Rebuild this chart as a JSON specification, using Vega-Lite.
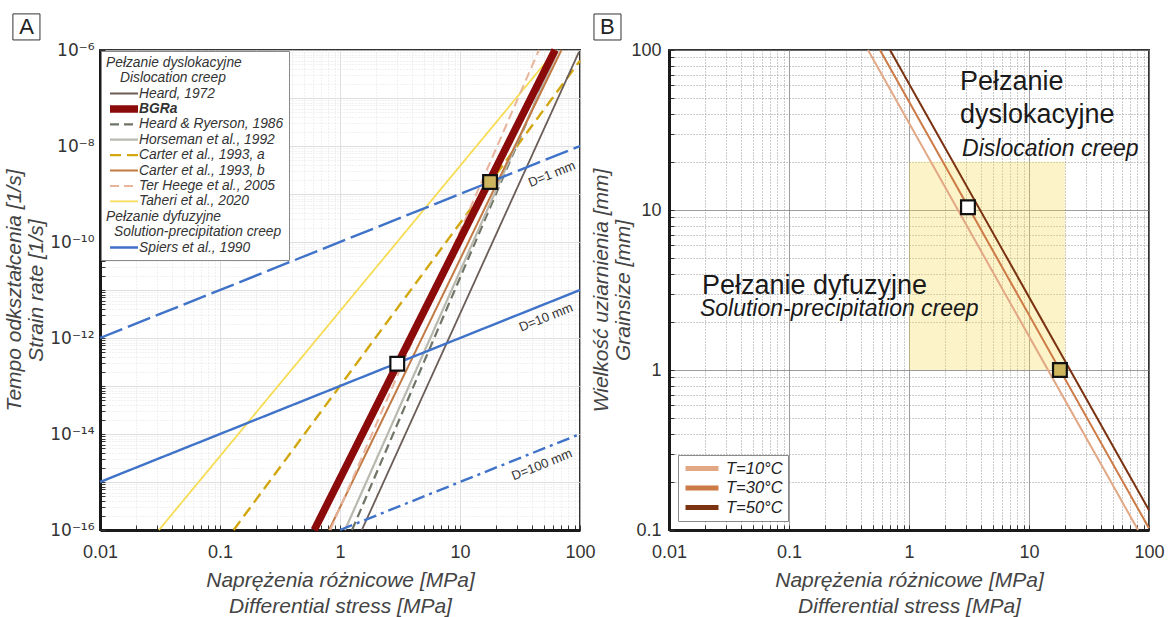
{
  "$schema": "https://vega.github.io/schema/vega-lite/v6.json",
  "padding": {"left": 2, "top": 12, "right": 0, "bottom": 0},
  "bounds": "flush",
  "spacing": 89,
  "resolve": {
    "scale": {"color": "independent", "fill": "independent", "strokeDash": "independent", "strokeWidth": "independent", "x": "independent", "y": "independent"},
    "legend": {"color": "independent", "fill": "independent", "strokeDash": "independent", "strokeWidth": "independent"}
  },
  "config": {
    "font": "Liberation Sans",
    "view": {"stroke": "#333333", "strokeWidth": 2},
    "axis": {
      "labelFont": "Liberation Sans",
      "labelFontSize": 18,
      "labelColor": "#333333",
      "titleFont": "Liberation Sans",
      "titleFontSize": 21,
      "titleFontStyle": "italic",
      "titleFontWeight": "normal",
      "titleColor": "#444444",
      "domainColor": "#1a1a1a",
      "domainWidth": 3,
      "tickColor": "#333333",
      "tickSize": -5,
      "tickWidth": 1,
      "labelOverlap": false,
      "labelFlush": false,
      "labelBound": false
    }
  },
  "datasets": {
    "creep": [
      {"series": "Taheri et al., 2020", "stress": 0.031, "rate": 1e-16},
      {"series": "Taheri et al., 2020", "stress": 63, "rate": 1e-6},
      {"series": "Carter et al., 1993, a", "stress": 0.13, "rate": 1e-16},
      {"series": "Carter et al., 1993, a", "stress": 100, "rate": 6e-7},
      {"series": "Heard, 1972", "stress": 1.52, "rate": 1e-16},
      {"series": "Heard, 1972", "stress": 98, "rate": 9.1e-7},
      {"series": "Heard & Ryerson, 1986", "stress": 1.26, "rate": 1e-16},
      {"series": "Heard & Ryerson, 1986", "stress": 65, "rate": 1e-6},
      {"series": "Horseman et al., 1992", "stress": 1.1, "rate": 1e-16},
      {"series": "Horseman et al., 1992", "stress": 66, "rate": 1e-6},
      {"series": "Carter et al., 1993, b", "stress": 0.81, "rate": 1e-16},
      {"series": "Carter et al., 1993, b", "stress": 70, "rate": 1e-6},
      {"series": "Ter Heege et al., 2005", "stress": 0.83, "rate": 1e-16},
      {"series": "Ter Heege et al., 2005", "stress": 45.5, "rate": 1e-6},
      {"series": "BGRa", "stress": 0.61, "rate": 1e-16},
      {"series": "BGRa", "stress": 62, "rate": 1e-6},
      {"series": "Spiers et al., 1990 (D=1 mm)", "stress": 0.01, "rate": 1e-12},
      {"series": "Spiers et al., 1990 (D=1 mm)", "stress": 100, "rate": 1e-8},
      {"series": "Spiers et al., 1990", "stress": 0.01, "rate": 1e-15},
      {"series": "Spiers et al., 1990", "stress": 100, "rate": 1e-11},
      {"series": "Spiers et al., 1990 (D=100 mm)", "stress": 1, "rate": 1e-16},
      {"series": "Spiers et al., 1990 (D=100 mm)", "stress": 100, "rate": 1e-14}
    ],
    "dlabels": [
      {"label": "D=1 mm", "stress": 58.4, "rate": 2.58e-9},
      {"label": "D=10 mm", "stress": 52.1, "rate": 2.67e-12},
      {"label": "D=100 mm", "stress": 48.2, "rate": 2.28e-15}
    ],
    "pointsA": [
      {"D": "1 mm", "stress": 17.8, "rate": 1.78e-9},
      {"D": "10 mm", "stress": 3.0, "rate": 2.9e-13}
    ],
    "panelA": [
      {"label": "A", "stress": 0.00244, "rate": 3.02e-6, "stress_lo": 0.00188, "stress_hi": 0.00316, "rate_hi": 5.65e-6, "rate_lo": 1.62e-6}
    ],
    "mapB": [
      {"T": "T=10°C", "stress": 0.455, "grain": 100},
      {"T": "T=10°C", "stress": 81, "grain": 0.1},
      {"T": "T=30°C", "stress": 0.573, "grain": 100},
      {"T": "T=30°C", "stress": 100, "grain": 0.1026},
      {"T": "T=50°C", "stress": 0.695, "grain": 100},
      {"T": "T=50°C", "stress": 100, "grain": 0.133}
    ],
    "pointsB": [
      {"D": "10 mm", "stress": 3.1, "grain": 10.4},
      {"D": "1 mm", "stress": 18.1, "grain": 1.0}
    ],
    "regionB": [
      {"stress": 1, "stress_hi": 20, "grain": 1, "grain_hi": 20}
    ],
    "textB": [
      {"label": "Pełzanie", "stress": 2.66, "grain": 56.2},
      {"label": "dyslokacyjne", "stress": 2.66, "grain": 35.0},
      {"label": "Pełzanie dyfuzyjne", "stress": 0.0188, "grain": 2.99}
    ],
    "textBi": [
      {"label": "Dislocation creep", "stress": 2.77, "grain": 21.8},
      {"label": "Solution-precipitation creep", "stress": 0.0181, "grain": 2.18}
    ],
    "panelB": [
      {"label": "B", "stress": 0.00307, "grain": 139.2, "stress_lo": 0.00237, "stress_hi": 0.00398, "grain_hi": 167.9, "grain_lo": 115.5}
    ]
  },
  "hconcat": [
    {
      "width": 480,
      "height": 480,
      "encoding": {
        "x": {
          "field": "stress", "type": "quantitative",
          "scale": {"type": "log", "domain": [0.01, 100], "nice": false},
          "axis": {
            "title": ["Naprężenia różnicowe [MPa]", "Differential stress [MPa]"],
            "titleLineHeight": 26,
            "titlePadding": 8,
            "labelPadding": 18,
            "values": [0.01,0.02,0.03,0.04,0.05,0.06,0.07,0.08,0.09,0.1,0.2,0.3,0.4,0.5,0.6,0.7,0.8,0.9,1,2,3,4,5,6,7,8,9,10,20,30,40,50,60,70,80,90,100],
            "labelExpr": "abs(log(datum.value)/LN10-round(log(datum.value)/LN10))<0.001 ? format(datum.value,'~g') : ''",
            "gridColor": {"condition": {"test": "abs(log(datum.value)/LN10-round(log(datum.value)/LN10))<0.001", "value": "#d4d4d4"}, "value": "#e3e3e3"},
            "gridDash": {"condition": {"test": "abs(log(datum.value)/LN10-round(log(datum.value)/LN10))<0.001", "value": [1, 0]}, "value": [1, 2]}
          }
        },
        "y": {
          "field": "rate", "type": "quantitative",
          "scale": {"type": "log", "domain": [1e-16, 1e-6], "nice": false},
          "axis": {
            "title": ["Tempo odkształcenia [1/s]", "Strain rate [1/s]"],
            "titleLineHeight": 22,
            "titlePadding": 3,
            "labelPadding": 11,
            "labelFont": "DejaVu Sans",
            "labelFontSize": 17,
            "values": [1e-16,2e-16,3e-16,4e-16,5e-16,6e-16,7e-16,8e-16,9e-16,1e-15,2e-15,3e-15,4e-15,5e-15,6e-15,7e-15,8e-15,9e-15,1e-14,2e-14,3e-14,4e-14,5e-14,6e-14,7e-14,8e-14,9e-14,1e-13,2e-13,3e-13,4e-13,5e-13,6e-13,7e-13,8e-13,9e-13,1e-12,2e-12,3e-12,4e-12,5e-12,6e-12,7e-12,8e-12,9e-12,1e-11,2e-11,3e-11,4e-11,5e-11,6e-11,7e-11,8e-11,9e-11,1e-10,2e-10,3e-10,4e-10,5e-10,6e-10,7e-10,8e-10,9e-10,1e-9,2e-9,3e-9,4e-9,5e-9,6e-9,7e-9,8e-9,9e-9,1e-8,2e-8,3e-8,4e-8,5e-8,6e-8,7e-8,8e-8,9e-8,1e-7,2e-7,3e-7,4e-7,5e-7,6e-7,7e-7,8e-7,9e-7,1e-6],
            "labelExpr": "abs(log(datum.value)/LN10-round(log(datum.value)/LN10))>0.001 ? '' : round(log(datum.value)/LN10)==-6 ? '10⁻⁶' : round(log(datum.value)/LN10)==-8 ? '10⁻⁸' : round(log(datum.value)/LN10)==-10 ? '10⁻¹⁰' : round(log(datum.value)/LN10)==-12 ? '10⁻¹²' : round(log(datum.value)/LN10)==-14 ? '10⁻¹⁴' : round(log(datum.value)/LN10)==-16 ? '10⁻¹⁶' : ''",
            "gridColor": {"condition": {"test": "abs(log(datum.value)/LN10-round(log(datum.value)/LN10))<0.001", "value": "#d4d4d4"}, "value": "#e3e3e3"},
            "gridDash": {"condition": {"test": "abs(log(datum.value)/LN10-round(log(datum.value)/LN10))<0.001", "value": [1, 0]}, "value": [1, 2]}
          }
        }
      },
      "layer": [
        {
          "data": {"name": "creep"},
          "mark": {"type": "line", "strokeCap": "butt"},
          "encoding": {
            "color": {
              "field": "series", "type": "nominal",
              "scale": {
                "domain": ["Pełzanie dyslokacyjne", "Dislocation creep", "Heard, 1972", "BGRa", "Heard & Ryerson, 1986", "Horseman et al., 1992", "Carter et al., 1993, a", "Carter et al., 1993, b", "Ter Heege et al., 2005", "Taheri et al., 2020", "Pełzanie dyfuzyjne", "Solution-precipitation creep", "Spiers et al., 1990", "Spiers et al., 1990 (D=1 mm)", "Spiers et al., 1990 (D=100 mm)"],
                "range": ["rgba(0,0,0,0)", "rgba(0,0,0,0)", "#6b5d57", "#8b0a0a", "#6e7566", "#b9b9b0", "#d2a70f", "#c27a45", "#e8b49c", "#f7dc55", "rgba(0,0,0,0)", "rgba(0,0,0,0)", "#3f72c8", "#3f72c8", "#3f72c8"]
              },
              "legend": {
                "title": null,
                "orient": "top-left",
                "offset": 1,
                "padding": 5,
                "fillColor": "white",
                "strokeColor": "#8a8a8a",
                "symbolType": "stroke",
                "symbolSize": 784,
                "clipHeight": 13.4,
                "rowPadding": 0.4,
                "labelOffset": 5,
                "labelFont": "Liberation Sans",
                "labelFontSize": 13.8,
                "labelFontStyle": "italic",
                "labelColor": "#333333",
                "labelLimit": 300,
                "values": ["Pełzanie dyslokacyjne", "Dislocation creep", "Heard, 1972", "BGRa", "Heard & Ryerson, 1986", "Horseman et al., 1992", "Carter et al., 1993, a", "Carter et al., 1993, b", "Ter Heege et al., 2005", "Taheri et al., 2020", "Pełzanie dyfuzyjne", "Solution-precipitation creep", "Spiers et al., 1990"],
                "encode": {
                  "labels": {"update": {
                    "x": {"signal": "datum.label == 'Pełzanie dyslokacyjne' || datum.label == 'Pełzanie dyfuzyjne' ? 0 : datum.label == 'Dislocation creep' ? 14 : datum.label == 'Solution-precipitation creep' ? 8 : 33"},
                    "fontWeight": {"signal": "datum.label == 'BGRa' ? 'bold' : 'normal'"}
                  }},
                  "symbols": {"update": {
                    "strokeWidth": {"signal": "datum.label == 'BGRa' ? 6 : 2.6"},
                    "strokeDash": {"signal": "datum.label == 'Heard & Ryerson, 1986' || datum.label == 'Ter Heege et al., 2005' ? [7, 4] : datum.label == 'Carter et al., 1993, a' ? [8, 4] : [1, 0]"}
                  }}
                }
              }
            },
            "strokeDash": {
              "field": "series", "type": "nominal", "legend": null,
              "scale": {
                "domain": ["Pełzanie dyslokacyjne", "Dislocation creep", "Heard, 1972", "BGRa", "Heard & Ryerson, 1986", "Horseman et al., 1992", "Carter et al., 1993, a", "Carter et al., 1993, b", "Ter Heege et al., 2005", "Taheri et al., 2020", "Pełzanie dyfuzyjne", "Solution-precipitation creep", "Spiers et al., 1990", "Spiers et al., 1990 (D=1 mm)", "Spiers et al., 1990 (D=100 mm)"],
                "range": [[1,0],[1,0],[1,0],[1,0],[9,5],[1,0],[11,6],[1,0],[9,5],[1,0],[1,0],[1,0],[1,0],[24,6],[13,5,3,5]]
              }
            },
            "strokeWidth": {
              "field": "series", "type": "nominal", "legend": null,
              "scale": {
                "type": "ordinal",
                "domain": ["Pełzanie dyslokacyjne", "Dislocation creep", "Heard, 1972", "BGRa", "Heard & Ryerson, 1986", "Horseman et al., 1992", "Carter et al., 1993, a", "Carter et al., 1993, b", "Ter Heege et al., 2005", "Taheri et al., 2020", "Pełzanie dyfuzyjne", "Solution-precipitation creep", "Spiers et al., 1990", "Spiers et al., 1990 (D=1 mm)", "Spiers et al., 1990 (D=100 mm)"],
                "range": [0, 0, 1.8, 7.5, 2.2, 2.2, 2.4, 2, 2, 1.8, 0, 0, 2.4, 2.4, 2.4]
              }
            }
          }
        },
        {
          "data": {"name": "dlabels"},
          "mark": {"type": "text", "angle": -22, "fontSize": 13, "color": "#333333", "align": "center", "baseline": "middle"},
          "encoding": {
            "text": {"field": "label"}
          }
        },
        {
          "data": {"name": "pointsA"},
          "mark": {"type": "point", "shape": "square", "filled": true, "size": 190, "stroke": "#111111", "strokeWidth": 2.2, "opacity": 1},
          "encoding": {
            "fill": {"field": "D", "type": "nominal", "scale": {"domain": ["1 mm", "10 mm"], "range": ["#cdb65d", "#ffffff"]}, "legend": null}
          }
        },
        {
          "data": {"name": "panelA"},
          "mark": {"type": "rect", "fill": "white", "stroke": "#333333", "strokeWidth": 1},
          "encoding": {
            "x": {"field": "stress_lo", "type": "quantitative"},
            "x2": {"field": "stress_hi"},
            "y": {"field": "rate_hi", "type": "quantitative"},
            "y2": {"field": "rate_lo"}
          }
        },
        {
          "data": {"name": "panelA"},
          "mark": {"type": "text", "fontSize": 22, "color": "#222222", "align": "center", "baseline": "middle"},
          "encoding": {
            "text": {"field": "label"}
          }
        }
      ]
    },
    {
      "width": 480,
      "height": 480,
      "encoding": {
        "x": {
          "field": "stress", "type": "quantitative",
          "scale": {"type": "log", "domain": [0.01, 100], "nice": false},
          "axis": {
            "title": ["Naprężenia różnicowe [MPa]", "Differential stress [MPa]"],
            "titleLineHeight": 26,
            "titlePadding": 8,
            "labelPadding": 18,
            "values": [0.01,0.02,0.03,0.04,0.05,0.06,0.07,0.08,0.09,0.1,0.2,0.3,0.4,0.5,0.6,0.7,0.8,0.9,1,2,3,4,5,6,7,8,9,10,20,30,40,50,60,70,80,90,100],
            "labelExpr": "abs(log(datum.value)/LN10-round(log(datum.value)/LN10))<0.001 ? format(datum.value,'~g') : ''",
            "gridColor": {"condition": {"test": "abs(log(datum.value)/LN10-round(log(datum.value)/LN10))<0.001", "value": "#7d7d7d"}, "value": "#999999"},
            "gridDash": {"condition": {"test": "abs(log(datum.value)/LN10-round(log(datum.value)/LN10))<0.001", "value": [1, 0]}, "value": [1, 2]}
          }
        },
        "y": {
          "field": "grain", "type": "quantitative",
          "scale": {"type": "log", "domain": [0.1, 100], "nice": false},
          "axis": {
            "title": ["Wielkość uziarnienia [mm]", "Grainsize [mm]"],
            "titleLineHeight": 22,
            "titlePadding": -3,
            "labelPadding": 13,
            "values": [0.1,0.2,0.3,0.4,0.5,0.6,0.7,0.8,0.9,1,2,3,4,5,6,7,8,9,10,20,30,40,50,60,70,80,90,100],
            "labelExpr": "abs(log(datum.value)/LN10-round(log(datum.value)/LN10))<0.001 ? format(datum.value,'~g') : ''",
            "gridColor": {"condition": {"test": "abs(log(datum.value)/LN10-round(log(datum.value)/LN10))<0.001", "value": "#7d7d7d"}, "value": "#999999"},
            "gridDash": {"condition": {"test": "abs(log(datum.value)/LN10-round(log(datum.value)/LN10))<0.001", "value": [1, 0]}, "value": [1, 2]}
          }
        }
      },
      "layer": [
        {
          "data": {"name": "regionB"},
          "mark": {"type": "rect", "fill": "#f9d649", "opacity": 0.3},
          "encoding": {
            "x2": {"field": "stress_hi"},
            "y2": {"field": "grain_hi"}
          }
        },
        {
          "data": {"name": "mapB"},
          "mark": {"type": "line", "strokeWidth": 2},
          "encoding": {
            "color": {
              "field": "T", "type": "nominal",
              "scale": {"domain": ["T=10°C", "T=30°C", "T=50°C"], "range": ["#e2a886", "#cc7a46", "#7a3210"]},
              "legend": {
                "title": null,
                "orient": "bottom-left",
                "offset": 9,
                "padding": 5,
                "fillColor": "white",
                "strokeColor": "#8a8a8a",
                "symbolType": "stroke",
                "symbolSize": 1089,
                "symbolStrokeWidth": 5,
                "clipHeight": 17,
                "rowPadding": 2.5,
                "labelOffset": 5,
                "labelFont": "Liberation Sans",
                "labelFontSize": 16.5,
                "labelFontStyle": "italic",
                "labelColor": "#222222"
              }
            }
          }
        },
        {
          "data": {"name": "pointsB"},
          "mark": {"type": "point", "shape": "square", "filled": true, "size": 190, "stroke": "#111111", "strokeWidth": 2.2, "opacity": 1},
          "encoding": {
            "fill": {"field": "D", "type": "nominal", "scale": {"domain": ["1 mm", "10 mm"], "range": ["#cdb65d", "#ffffff"]}, "legend": null}
          }
        },
        {
          "data": {"name": "textB"},
          "mark": {"type": "text", "fontSize": 27, "color": "#1a1a1a", "align": "left", "baseline": "alphabetic"},
          "encoding": {
            "text": {"field": "label"}
          }
        },
        {
          "data": {"name": "textBi"},
          "mark": {"type": "text", "fontSize": 23, "fontStyle": "italic", "color": "#1a1a1a", "align": "left", "baseline": "alphabetic"},
          "encoding": {
            "text": {"field": "label"}
          }
        },
        {
          "data": {"name": "panelB"},
          "mark": {"type": "rect", "fill": "white", "stroke": "#333333", "strokeWidth": 1},
          "encoding": {
            "x": {"field": "stress_lo", "type": "quantitative"},
            "x2": {"field": "stress_hi"},
            "y": {"field": "grain_hi", "type": "quantitative"},
            "y2": {"field": "grain_lo"}
          }
        },
        {
          "data": {"name": "panelB"},
          "mark": {"type": "text", "fontSize": 22, "color": "#222222", "align": "center", "baseline": "middle"},
          "encoding": {
            "text": {"field": "label"}
          }
        }
      ]
    }
  ]
}
